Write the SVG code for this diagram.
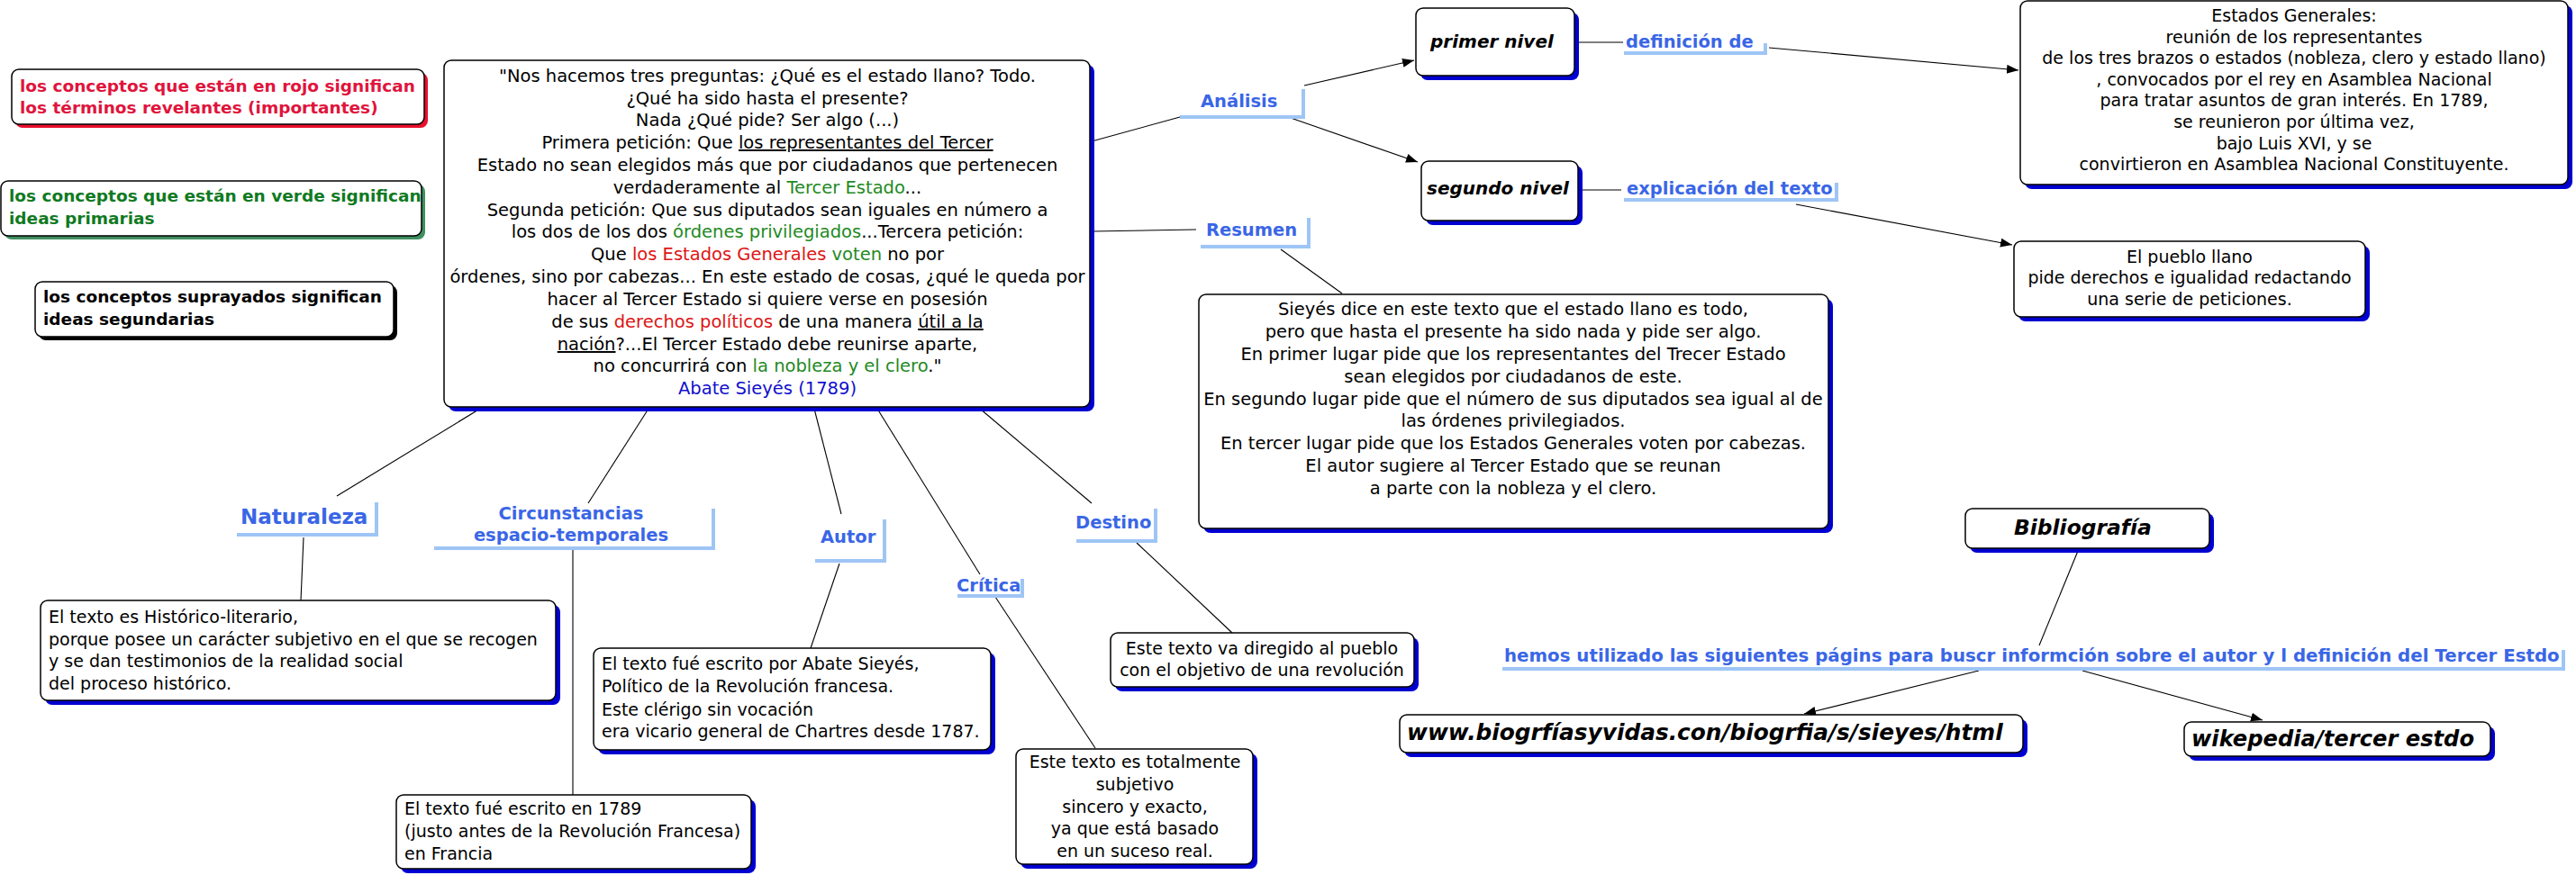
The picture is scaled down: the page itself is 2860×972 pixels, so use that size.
<svg xmlns="http://www.w3.org/2000/svg" width="2860" height="972" viewBox="0 0 2860 972">
<style>
.box{fill:#fff;stroke:#000;stroke-width:1.5}
.sh{fill:#0000d0}
.t{font-family:"DejaVu Sans",Verdana,sans-serif;font-size:19px;fill:#000}
.t2{font-size:19.5px}
.c{text-anchor:middle}
.lbl{font-family:"DejaVu Sans",Verdana,sans-serif;font-weight:bold;font-size:19.5px;fill:#3a66e6}
.bar{fill:none;stroke:#9ec5f5;stroke-width:4}
.ln{stroke:#000;stroke-width:1.1;fill:none}
.arr{marker-end:url(#ah)}
.bi{font-weight:bold;font-style:italic}
.leg{font-family:"DejaVu Sans",Verdana,sans-serif;font-weight:bold;font-size:18.5px}
.r{fill:#dd1515}
.g{fill:#1f8a1f}
.b{fill:#1010cc}
.u{text-decoration:underline}
</style>
<defs>
<marker id="ah" markerUnits="userSpaceOnUse" markerWidth="14" markerHeight="12" refX="13" refY="5" orient="auto">
<path d="M0,0 L13,5 L0,10 z" fill="#000"/>
</marker>
</defs>
<rect width="2860" height="972" fill="#fff"/>

<g id="connectors">
<line class="ln" x1="1212" y1="157" x2="1310" y2="130"/>
<line class="ln arr" x1="1448" y1="95" x2="1570" y2="67"/>
<line class="ln arr" x1="1433" y1="131" x2="1574" y2="180"/>
<line class="ln" x1="1750" y1="47" x2="1802" y2="47"/>
<line class="ln arr" x1="1964" y1="53" x2="2241" y2="78"/>
<line class="ln" x1="1755" y1="211" x2="1800" y2="211"/>
<line class="ln arr" x1="1994" y1="227" x2="2234" y2="272"/>
<line class="ln" x1="1212" y1="257" x2="1328" y2="255"/>
<line class="ln" x1="1422" y1="277" x2="1490" y2="326"/>
<line class="ln" x1="533" y1="454" x2="374" y2="551"/>
<line class="ln" x1="337" y1="597" x2="334" y2="667"/>
<line class="ln" x1="720" y1="454" x2="653" y2="559"/>
<line class="ln" x1="636" y1="611" x2="636" y2="883"/>
<line class="ln" x1="904" y1="454" x2="934" y2="571"/>
<line class="ln" x1="932" y1="626" x2="900" y2="720"/>
<line class="ln" x1="974" y1="454" x2="1088" y2="638"/>
<line class="ln" x1="1105" y1="663" x2="1216" y2="831"/>
<line class="ln" x1="1088" y1="454" x2="1212" y2="559"/>
<line class="ln" x1="1262" y1="603" x2="1368" y2="703"/>
<line class="ln" x1="2307" y1="612" x2="2264" y2="717"/>
<line class="ln arr" x1="2197" y1="745" x2="2003" y2="793"/>
<line class="ln arr" x1="2312" y1="745" x2="2512" y2="800"/>
</g>

<g id="legend-red">
<rect x="17" y="81" width="458" height="61" rx="8" fill="#e8102d"/>
<rect class="box" x="13" y="77" width="458" height="61" rx="8"/>
<text class="leg" x="22" y="102" fill="#e0143c">los conceptos que están en rojo significan</text>
<text class="leg" x="22" y="126" fill="#e0143c">los términos revelantes (importantes)</text>
</g>
<g id="legend-green">
<rect x="5" y="205" width="467" height="61" rx="8" fill="#3f9060"/>
<rect class="box" x="1" y="201" width="467" height="61" rx="8"/>
<text class="leg" x="10" y="224" fill="#0f7a1f">los conceptos que están en verde significan</text>
<text class="leg" x="10" y="249" fill="#0f7a1f">ideas primarias</text>
</g>
<g id="legend-black">
<rect x="43" y="317" width="398" height="61" rx="8" fill="#000"/>
<rect class="box" x="39" y="313" width="398" height="61" rx="8"/>
<text class="leg" x="48" y="336" fill="#000">los conceptos suprayados significan</text>
<text class="leg" x="48" y="361" fill="#000">ideas segundarias</text>
</g>

<g id="quote">
<rect class="sh" x="498" y="72" width="717" height="385" rx="8"/>
<rect class="box" x="493" y="67" width="717" height="385" rx="8"/>
<text class="t t2 c" x="852" y="91">"Nos hacemos tres preguntas: ¿Qué es el estado llano? Todo.</text>
<text class="t t2 c" x="852" y="116">¿Qué ha sido hasta el presente?</text>
<text class="t t2 c" x="852" y="140">Nada ¿Qué pide? Ser algo (...)</text>
<text class="t t2 c" x="852" y="165">Primera petición: Que <tspan class="u">los representantes del Tercer</tspan></text>
<text class="t t2 c" x="852" y="190">Estado no sean elegidos más que por ciudadanos que pertenecen</text>
<text class="t t2 c" x="852" y="215">verdaderamente al <tspan class="g">Tercer Estado</tspan>...</text>
<text class="t t2 c" x="852" y="240">Segunda petición: Que sus diputados sean iguales en número a</text>
<text class="t t2 c" x="852" y="264">los dos de los dos <tspan class="g">órdenes privilegiados</tspan>...Tercera petición:</text>
<text class="t t2 c" x="852" y="289">Que <tspan class="r">los Estados Generales</tspan> <tspan class="g">voten</tspan> no por</text>
<text class="t t2 c" x="852" y="314">órdenes, sino por cabezas... En este estado de cosas, ¿qué le queda por</text>
<text class="t t2 c" x="852" y="339">hacer al Tercer Estado si quiere verse en posesión</text>
<text class="t t2 c" x="852" y="364">de sus <tspan class="r">derechos políticos</tspan> de una manera <tspan class="u">útil a la</tspan></text>
<text class="t t2 c" x="852" y="389"><tspan class="u">nación</tspan>?...El Tercer Estado debe reunirse aparte,</text>
<text class="t t2 c" x="852" y="413">no concurrirá con <tspan class="g">la nobleza y el clero</tspan>."</text>
<text class="t t2 c b" x="852" y="438">Abate Sieyés (1789)</text>
</g>

<g id="analisis">
<path class="bar" d="M1310,130 H1447 V99"/>
<text class="lbl" x="1333" y="119">Análisis</text>
</g>
<g id="resumen">
<path class="bar" d="M1333,274 H1453 V242"/>
<text class="lbl" x="1339" y="262">Resumen</text>
</g>
<g id="primer-nivel">
<rect class="sh" x="1577" y="14" width="176" height="75" rx="8"/>
<rect class="box" x="1572" y="9" width="176" height="75" rx="8"/>
<text class="t bi" x="1588" y="53" style="font-size:20px">primer nivel</text>
</g>
<g id="segundo-nivel">
<rect class="sh" x="1583" y="184" width="174" height="66" rx="8"/>
<rect class="box" x="1578" y="179" width="174" height="66" rx="8"/>
<text class="t bi" x="1584" y="216" style="font-size:20px">segundo nivel</text>
</g>
<g id="definicion">
<path class="bar" d="M1803,59 H1960 V48"/>
<text class="lbl" x="1805" y="53">definición de</text>
</g>
<g id="explicacion">
<path class="bar" d="M1803,222 H2039 V203"/>
<text class="lbl" x="1806" y="216">explicación del texto</text>
</g>
<g id="estados-generales">
<rect class="sh" x="2248" y="6" width="608" height="204" rx="8"/>
<rect class="box" x="2243" y="1" width="608" height="204" rx="8"/>
<text class="t c" x="2547" y="24">Estados Generales:</text>
<text class="t c" x="2547" y="48">reunión de los representantes</text>
<text class="t c" x="2547" y="71">de los tres brazos o estados (nobleza, clero y estado llano)</text>
<text class="t c" x="2547" y="95">, convocados por el rey en Asamblea Nacional</text>
<text class="t c" x="2547" y="118">para tratar asuntos de gran interés. En 1789,</text>
<text class="t c" x="2547" y="142">se reunieron por última vez,</text>
<text class="t c" x="2547" y="166">bajo Luis XVI, y se</text>
<text class="t c" x="2547" y="189">convirtieron en Asamblea Nacional Constituyente.</text>
</g>
<g id="pueblo-llano">
<rect class="sh" x="2241" y="273" width="390" height="84" rx="8"/>
<rect class="box" x="2236" y="268" width="390" height="84" rx="8"/>
<text class="t c" x="2431" y="292">El pueblo llano</text>
<text class="t c" x="2431" y="315">pide derechos e igualidad redactando</text>
<text class="t c" x="2431" y="339">una serie de peticiones.</text>
</g>
<g id="resumen-texto">
<rect class="sh" x="1336" y="332" width="699" height="260" rx="8"/>
<rect class="box" x="1331" y="327" width="699" height="260" rx="8"/>
<text class="t t2 c" x="1680" y="350">Sieyés dice en este texto que el estado llano es todo,</text>
<text class="t t2 c" x="1680" y="375">pero que hasta el presente ha sido nada y pide ser algo.</text>
<text class="t t2 c" x="1680" y="400">En primer lugar pide que los representantes del Trecer Estado</text>
<text class="t t2 c" x="1680" y="425">sean elegidos por ciudadanos de este.</text>
<text class="t t2 c" x="1680" y="450">En segundo lugar pide que el número de sus diputados sea igual al de</text>
<text class="t t2 c" x="1680" y="474">las órdenes privilegiados.</text>
<text class="t t2 c" x="1680" y="499">En tercer lugar pide que los Estados Generales voten por cabezas.</text>
<text class="t t2 c" x="1680" y="524">El autor sugiere al Tercer Estado que se reunan</text>
<text class="t t2 c" x="1680" y="549">a parte con la nobleza y el clero.</text>
</g>

<g id="naturaleza">
<path class="bar" d="M263,594 H418 V558"/>
<text class="lbl" x="267" y="582" style="font-size:23px">Naturaleza</text>
</g>
<g id="naturaleza-texto">
<rect class="sh" x="50" y="672" width="572" height="111" rx="8"/>
<rect class="box" x="45" y="667" width="572" height="111" rx="8"/>
<text class="t" x="54" y="692">El texto es Histórico-literario,</text>
<text class="t" x="54" y="717">porque posee un carácter subjetivo en el que se recogen</text>
<text class="t" x="54" y="741">y se dan testimonios de la realidad social</text>
<text class="t" x="54" y="766">del proceso histórico.</text>
</g>
<g id="circunstancias">
<path class="bar" d="M482,609 H792 V565"/>
<text class="lbl c" x="634" y="577">Circunstancias</text>
<text class="lbl c" x="634" y="601">espacio-temporales</text>
</g>
<g id="circunstancias-texto">
<rect class="sh" x="445" y="888" width="394" height="82" rx="8"/>
<rect class="box" x="440" y="883" width="394" height="82" rx="8"/>
<text class="t" x="449" y="905">El texto fué escrito en 1789</text>
<text class="t" x="449" y="930">(justo antes de la Revolución Francesa)</text>
<text class="t" x="449" y="955">en Francia</text>
</g>
<g id="autor">
<path class="bar" d="M905,623 H982 V577"/>
<text class="lbl" x="911" y="603">Autor</text>
</g>
<g id="autor-texto">
<rect class="sh" x="664" y="725" width="441" height="113" rx="8"/>
<rect class="box" x="659" y="720" width="441" height="113" rx="8"/>
<text class="t" x="668" y="744">El texto fué escrito por Abate Sieyés,</text>
<text class="t" x="668" y="769">Político de la Revolución francesa.</text>
<text class="t" x="668" y="795">Este clérigo sin vocación</text>
<text class="t" x="668" y="819">era vicario general de Chartres desde 1787.</text>
</g>
<g id="critica">
<path class="bar" d="M1063,662 H1135 V643"/>
<text class="lbl" x="1062" y="657">Crítica</text>
</g>
<g id="critica-texto">
<rect class="sh" x="1133" y="837" width="263" height="128" rx="8"/>
<rect class="box" x="1128" y="832" width="263" height="128" rx="8"/>
<text class="t c" x="1260" y="853">Este texto es totalmente</text>
<text class="t c" x="1260" y="878">subjetivo</text>
<text class="t c" x="1260" y="903">sincero y exacto,</text>
<text class="t c" x="1260" y="927">ya que está basado</text>
<text class="t c" x="1260" y="952">en un suceso real.</text>
</g>
<g id="destino">
<path class="bar" d="M1195,601 H1283 V565"/>
<text class="lbl" x="1194" y="587">Destino</text>
</g>
<g id="destino-texto">
<rect class="sh" x="1238" y="708" width="337" height="60" rx="8"/>
<rect class="box" x="1233" y="703" width="337" height="60" rx="8"/>
<text class="t c" x="1401" y="727">Este texto va diregido al pueblo</text>
<text class="t c" x="1401" y="751">con el objetivo de una revolución</text>
</g>

<g id="bibliografia">
<rect class="sh" x="2187" y="570" width="271" height="44" rx="8"/>
<rect class="box" x="2182" y="565" width="271" height="44" rx="8"/>
<text class="t bi" x="2236" y="594" style="font-size:23.4px">Bibliografía</text>
</g>
<g id="hemos">
<path class="bar" d="M1668,743 H2846 V722"/>
<text class="lbl" x="1670" y="735" style="font-size:19.8px">hemos utilizado las siguientes págins para buscr informción sobre el autor y l definición del Tercer Estdo</text>
</g>
<g id="biografias">
<rect class="sh" x="1559" y="799" width="692" height="42" rx="8"/>
<rect class="box" x="1554" y="794" width="692" height="42" rx="8"/>
<text class="t bi" x="1562" y="822" style="font-size:24.8px">www.biogrfíasyvidas.con/biogrfia/s/sieyes/html</text>
</g>
<g id="wikepedia">
<rect class="sh" x="2430" y="807" width="340" height="38" rx="8"/>
<rect class="box" x="2425" y="802" width="340" height="38" rx="8"/>
<text class="t bi" x="2433" y="829" style="font-size:24.2px">wikepedia/tercer estdo</text>
</g>
</svg>
